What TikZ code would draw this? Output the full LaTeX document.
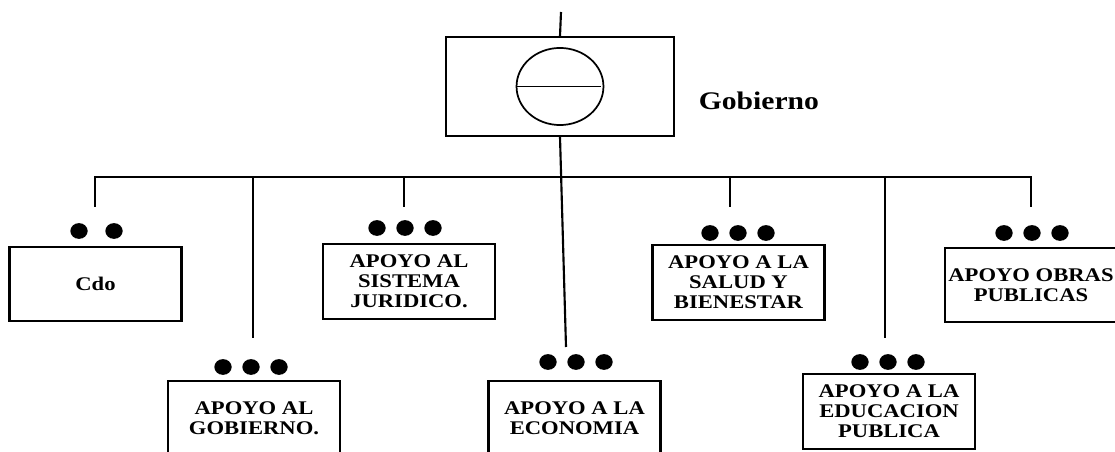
\documentclass[tikz,border=0pt]{standalone}
\usepackage{fontspec}
\setmainfont{Liberation Serif}[FakeStretch=1.17]
\usetikzlibrary{positioning}

\begin{document}
\begin{tikzpicture}[
    x=0.75pt, y=-0.75pt,
    line width=1.6pt,
    head/.style={draw, rectangle, minimum width=171pt, minimum height=74pt},
    unit/.style={draw, rectangle, minimum width=129pt, minimum height=56pt,
      inner sep=1pt, align=center,
      font=\fontsize{14.5}{15}\selectfont\bfseries},
    title/.style={inner sep=0pt, font=\fontsize{19}{22}\selectfont\bfseries},
    emblem/.style={line width=1.3pt},
    dot/.style={fill}
  ]
  \useasboundingbox (0,0) rectangle (1115,452);
  \clip (0,0) rectangle (1115,452);

  % top of the chart
  \node[head] (GOB) at (560,86.5) {};
  \draw[emblem] (GOB.center) ellipse [x radius=32.6pt, y radius=28.9pt];
  \draw[emblem] ([xshift=-32.6pt]GOB.center) -- ([xshift=31pt]GOB.center);
  \node[title, right=17pt of GOB, yshift=-11pt] (GOBlbl) {Gobierno};

  % the units below
  \node[unit] (CDO) at (95.5,284)  {Cdo};
  \node[unit] (JUR) at (409,281.5) {APOYO AL\\SISTEMA\\JURIDICO.};
  \node[unit] (SAL) at (738.5,282.5) {APOYO A LA\\SALUD Y\\BIENESTAR};
  \node[unit] (OBR) at (1031,285)  {APOYO OBRAS\\PUBLICAS};
  \node[unit] (APG) at (254,418.5) {APOYO AL\\GOBIERNO.};
  \node[unit] (ECO) at (574.5,418.5) {APOYO A LA\\ECONOMIA};
  \node[unit] (EDU) at (889,411.5) {APOYO A LA\\EDUCACION\\PUBLICA};

  % bus and stems
  \coordinate (top) at (561,12);
  \coordinate (b2) at (253,177);
  \coordinate (b3) at (404,177);
  \coordinate (b5) at (730,177);
  \coordinate (b6) at (885,177);
  \coordinate (b7) at (1031,177);
  \coordinate (e1) at (95,207);
  \coordinate (e2) at (253,338);
  \coordinate (e3) at (404,207);
  \coordinate (e4) at (566,347);
  \coordinate (e5) at (730,207);
  \coordinate (e6) at (885,338);
  \coordinate (e7) at (1031,207);

  \draw (top) -- (GOB.north);
  \draw (GOB.south) -- (e4);
  \draw (e1) |- (b7) -- (e7);
  \foreach \i in {2,3,5,6}
    \draw (b\i) -- (e\i);

  % dots over the boxes
  \foreach \cx/\cy in {405/228, 738/233, 1032/233, 251/367, 576/362, 888/362}
    \foreach \k in {-1,0,1}
      \fill[dot] (\cx+\k*28,\cy) ellipse [x radius=6.5pt, y radius=5.9pt];
  \foreach \cx in {79,114}
    \fill[dot] (\cx,231) ellipse [x radius=6.5pt, y radius=5.9pt];

\end{tikzpicture}
\end{document}
